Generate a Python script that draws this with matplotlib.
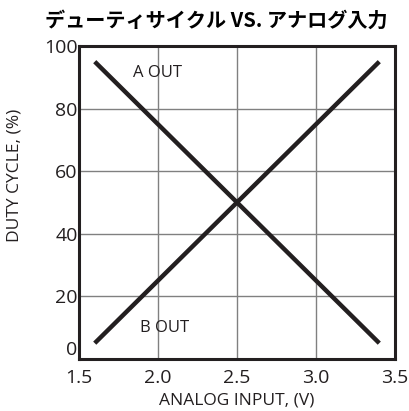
import matplotlib
matplotlib.use("Agg")
import matplotlib.pyplot as plt

plt.rcParams['font.family'] = ['Open Sans', 'DejaVu Sans']

# data
a_out_x = [1.6, 3.4]
a_out_y = [95, 5]
b_out_x = [1.6, 3.4]
b_out_y = [5, 95]
x_ticks = [1.5, 2.0, 2.5, 3.0, 3.5]
y_ticks = [0, 20, 40, 60, 80, 100]

INK = "#231f20"

fig = plt.figure(figsize=(4.09, 4.11), dpi=100)
ax = fig.add_axes([0.193, 0.127, 0.773, 0.761])

ax.plot(a_out_x, a_out_y, color=INK, lw=3.2, solid_capstyle='butt')
ax.plot(b_out_x, b_out_y, color=INK, lw=3.2, solid_capstyle='butt')

ax.text(2.0, 91.3, "A OUT", ha='center', va='center', fontsize=12, color=INK)
ax.text(2.04, 10.0, "B OUT", ha='center', va='center', fontsize=12, color=INK)

ax.set_xlim(1.5, 3.5)
ax.set_ylim(0, 100)
ax.set_xticks(x_ticks)
ax.set_xticklabels(["%.1f" % v for v in x_ticks])
ax.set_yticks(y_ticks)
ax.tick_params(axis='x', length=0, labelsize=14, colors=INK, pad=7)
ax.tick_params(axis='y', length=0, labelsize=14, colors=INK, pad=1)
ylbls = ax.get_yticklabels()
ylbls[0].set_va('bottom')

ax.grid(True, color="#808080", lw=1.0)
ax.set_axisbelow(True)
for s in ax.spines.values():
    s.set_linewidth(2.2)
    s.set_color(INK)

ax.set_xlabel("ANALOG INPUT, (V)", fontsize=12.5, color=INK, labelpad=4)
ax.set_ylabel("DUTY CYCLE, (%)", fontsize=12.5, color=INK)
ax.yaxis.set_label_coords(-0.18, 0.585)

fig.text(0.528, 0.951, "デューティサイクル VS. アナログ入力", ha='center', va='center',
         fontsize=14.5, fontweight='bold', color="black",
         family=['Noto Sans CJK JP', 'DejaVu Sans'])

fig.savefig("out.png", dpi=100)
